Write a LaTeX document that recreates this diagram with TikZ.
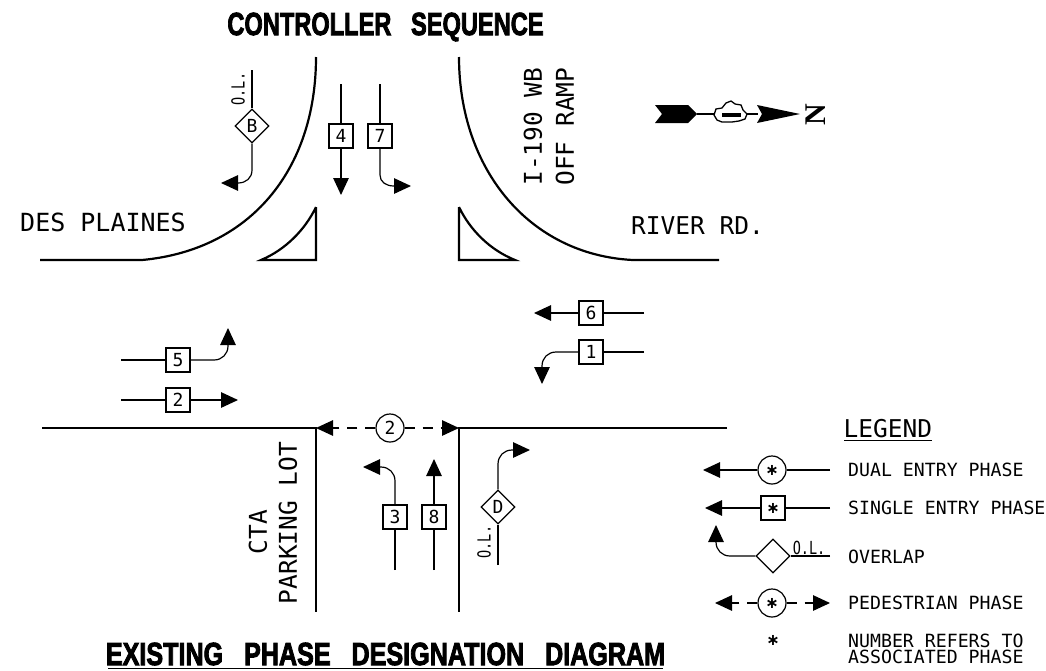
\documentclass[tikz,border=0pt]{standalone}
\usepackage{fontspec}
\usepackage{graphicx}
\usetikzlibrary{arrows.meta,shapes.geometric}
\setmainfont{DejaVu Sans Mono}
\newfontfamily\titlefont{Liberation Sans}[BoldFeatures={FakeBold=3}]
\newfontfamily\northfont{Liberation Serif}
\newfontfamily\starfont{DejaVu Sans}
\newcommand{\fs}[1]{\fontsize{#1}{#1}\selectfont}
\newcommand{\oltext}{\scalebox{0.75}[1]{\fs{18}O.L.}}
\newcommand{\starmark}{\starfont\bfseries\fs{16}∗}
\tikzset{
  road/.style={line width=2.2pt},
  flow/.style={line width=1.2pt,-{Triangle[length=17pt,width=15.5pt]}},
  plain/.style={line width=1.2pt},
  pedflow/.style={line width=1.2pt,dash pattern=on 10pt off 8pt,-{Triangle[length=17pt,width=15.5pt]}},
  phasebox/.style={draw,line width=1.2pt,fill=white,minimum size=24pt,inner sep=0pt,font=\fs{18}},
  dualc/.style={draw,circle,line width=1.2pt,fill=white,minimum size=28pt,inner sep=0pt,font=\fs{18}},
  olap/.style={draw,diamond,line width=1.2pt,fill=white,minimum size=34pt,inner sep=0pt,font=\fs{18}},
  legendtext/.style={anchor=west,inner sep=0pt,font=\fs{18.2}},
  roadtext/.style={inner sep=0pt,font=\fs{24.5}},
  sidetext/.style={inner sep=0pt,font=\fs{24.5},rotate=90},
  title/.style={inner sep=0pt,font=\titlefont\bfseries\fs{32}}
}
\begin{document}
\begin{tikzpicture}[x=1pt,y=-1pt]
\useasboundingbox (0,0) rectangle (1046,670);
% titles
\node[title] (t1) at (385.5,27) {\scalebox{0.738}[1]{CONTROLLER\ \ \ SEQUENCE}};
\node[title] (t2) at (385.5,654) {\scalebox{0.785}[1]{EXISTING\ \ \ PHASE\ \ \ DESIGNATION\ \ \ DIAGRAM}};
\coordinate (u1) at (108,668.5); \coordinate (u2) at (663,668.5);
\draw[line width=1.6pt] (u1) -- (u2);
% roads
\coordinate (a1) at (316,57); \coordinate (a2) at (142,260); \coordinate (a3) at (40,260);
\draw[road] (a1) .. controls (316,170) and (250,250) .. (a2) -- (a3);
\coordinate (b1) at (459,57); \coordinate (b2) at (633,260); \coordinate (b3) at (719,260);
\draw[road] (b1) .. controls (459,170) and (530,255) .. (b2) -- (b3);
\coordinate (i1) at (316,207); \coordinate (i2) at (316,260); \coordinate (i3) at (261,260);
\draw[road] (i1) -- (i2) -- (i3) .. controls (285,250) and (305,230) .. (i1);
\coordinate (j1) at (459,207); \coordinate (j2) at (459,260); \coordinate (j3) at (515,260);
\draw[road] (j1) -- (j2) -- (j3) .. controls (490,250) and (470,230) .. (j1);
\coordinate (c1) at (42,428); \coordinate (c2) at (316,428); \coordinate (c3) at (316,612);
\draw[road] (c1) -- (c2) -- (c3);
\coordinate (d1) at (727,428); \coordinate (d2) at (459,428); \coordinate (d3) at (459,612);
\draw[road] (d1) -- (d2) -- (d3);
% road labels
\node[roadtext,anchor=west,font=\fs{25}] (desp) at (20,222) {DES PLAINES};
\node[roadtext,anchor=west] (river) at (631,226) {RIVER RD.};
\node[sidetext] (i190) at (533,126.5) {I-190 WB};
\node[sidetext] (off) at (565,126.5) {OFF RAMP};
\node[sidetext] (cta) at (258,532) {CTA};
\node[sidetext] (park) at (288,523) {PARKING LOT};
% north arrow
\fill (655,105) -- (688,105) -- (697,114) -- (688,123) -- (655,123) -- (662,114) -- cycle;
\draw[line width=1.4pt] (697,114) -- (758,114);
\draw[line width=1.3pt,fill=white] (714,115) -- (716,109) -- (722,108) -- (726,103) -- (731,101) -- (735,104) -- (741,105) -- (743,110) -- (747,114) -- (745,119) -- (739,121) -- (732,122) -- (722,122) -- (717,120) -- cycle;
\fill (722,112.5) rectangle (741,116.5);
\fill (757,105) -- (800,114) -- (757,123) -- (762,114) -- cycle;
\node[inner sep=0pt,rotate=90,font=\northfont\bfseries\fs{30}] (north) at (816,115) {N};
% phase B
\node[olap] (B) at (252,126) {B};
\coordinate (Bt) at (252,70); \coordinate (Bc) at (252,170); \coordinate (Bb) at (238,183); \coordinate (Be) at (221,183);
\draw[plain] (Bt) -- (B.north);
\draw[flow] (B.south) -- (Bc) .. controls (252,178) and (246,183) .. (Bb) -- (Be);
\node[rotate=90,inner sep=0pt] (olB) at (238,89) {\oltext};
% phase 4
\node[phasebox] (p4) at (341,136) {4};
\coordinate (p4t) at (341,84); \coordinate (p4e) at (341,195);
\draw[plain] (p4t) -- (p4.north); \draw[flow] (p4.south) -- (p4e);
% phase 7
\node[phasebox] (p7) at (380,136) {7};
\coordinate (p7t) at (380,84); \coordinate (p7c) at (380,175); \coordinate (p7b) at (394,186); \coordinate (p7e) at (411,186);
\draw[plain] (p7t) -- (p7.north);
\draw[flow] (p7.south) -- (p7c) .. controls (380,182) and (386,186) .. (p7b) -- (p7e);
% phase 6
\node[phasebox] (p6) at (591,313) {6};
\coordinate (p6r) at (644,313); \coordinate (p6e) at (534,313);
\draw[plain] (p6r) -- (p6.east); \draw[flow] (p6.west) -- (p6e);
% phase 1
\node[phasebox] (p1) at (591,352) {1};
\coordinate (p1r) at (644,352); \coordinate (p1c) at (556,352); \coordinate (p1b) at (542,366); \coordinate (p1e) at (542,384);
\draw[plain] (p1r) -- (p1.east);
\draw[flow] (p1.west) -- (p1c) .. controls (548,352) and (542,358) .. (p1b) -- (p1e);
% phase 5
\node[phasebox] (p5) at (178,360) {5};
\coordinate (p5l) at (121,360); \coordinate (p5c) at (214,360); \coordinate (p5b) at (228,346); \coordinate (p5e) at (228,328);
\draw[plain] (p5l) -- (p5.west);
\draw[flow] (p5.east) -- (p5c) .. controls (222,360) and (228,354) .. (p5b) -- (p5e);
% phase 2
\node[phasebox] (p2) at (178,400) {2};
\coordinate (p2l) at (121,400); \coordinate (p2e) at (238,400);
\draw[plain] (p2l) -- (p2.west); \draw[flow] (p2.east) -- (p2e);
% pedestrian 2
\node[dualc] (ped) at (390,428) {2};
\coordinate (pedl) at (316,428); \coordinate (pedr) at (459,428);
\draw[pedflow] (ped.west) -- (pedl); \draw[pedflow] (ped.east) -- (pedr);
% phase 3
\node[phasebox] (p3) at (395,517) {3};
\coordinate (p3b) at (395,570); \coordinate (p3c) at (395,481); \coordinate (p3d) at (381,467); \coordinate (p3e) at (363,467);
\draw[plain] (p3b) -- (p3.south);
\draw[flow] (p3.north) -- (p3c) .. controls (395,473) and (389,467) .. (p3d) -- (p3e);
% phase 8
\node[phasebox] (p8) at (434,517) {8};
\coordinate (p8b) at (434,570); \coordinate (p8e) at (434,459);
\draw[plain] (p8b) -- (p8.south); \draw[flow] (p8.north) -- (p8e);
% phase D
\node[olap] (D) at (498,507) {D};
\coordinate (Db) at (498,565); \coordinate (Dc) at (498,464); \coordinate (Dd) at (512,450); \coordinate (De) at (530,450);
\draw[plain] (Db) -- (D.south);
\draw[flow] (D.north) -- (Dc) .. controls (498,456) and (504,450) .. (Dd) -- (De);
\node[rotate=90,inner sep=0pt] (olD) at (484,542) {\oltext};
% legend
\node[anchor=west,inner sep=0pt,font=\fs{24.5}] (leg) at (843.5,429) {LEGEND};
\coordinate (lg1) at (844,440.5); \coordinate (lg2) at (932,440.5);
\draw[line width=1.2pt] (lg1) -- (lg2);
\node[dualc] (L1) at (772,470) {\starmark};
\coordinate (L1r) at (830,470); \coordinate (L1e) at (703,470);
\draw[plain] (L1r) -- (L1.east); \draw[flow] (L1.west) -- (L1e);
\node[legendtext] (T1) at (848,470) {DUAL ENTRY PHASE};
\node[phasebox] (L2) at (773,508) {\starmark};
\coordinate (L2r) at (830,508); \coordinate (L2e) at (705,508);
\draw[plain] (L2r) -- (L2.east); \draw[flow] (L2.west) -- (L2e);
\node[legendtext] (T2) at (848,508) {SINGLE ENTRY PHASE};
\node[olap] (L3) at (773,556) {};
\coordinate (L3r) at (830,556); \coordinate (L3c) at (730,556); \coordinate (L3b) at (716,542); \coordinate (L3e) at (716,525);
\draw[plain] (L3r) -- (L3.east);
\draw[flow] (L3.west) -- (L3c) .. controls (722,556) and (716,550) .. (L3b) -- (L3e);
\node[inner sep=0pt] (olL) at (809,548) {\oltext};
\node[legendtext] (T3) at (848,556.5) {OVERLAP};
\node[dualc] (L4) at (772,603) {\starmark};
\coordinate (L4l) at (715,603); \coordinate (L4r) at (830,603);
\draw[pedflow] (L4.west) -- (L4l); \draw[pedflow] (L4.east) -- (L4r);
\node[legendtext] (T4) at (848,603) {PEDESTRIAN PHASE};
\node[inner sep=0pt] (L5) at (773,640) {\starmark};
\node[legendtext,align=left,font=\fontsize{18.2}{16.5}\selectfont] (T5) at (848,649) {NUMBER REFERS TO\\ASSOCIATED PHASE};
\end{tikzpicture}
\end{document}
